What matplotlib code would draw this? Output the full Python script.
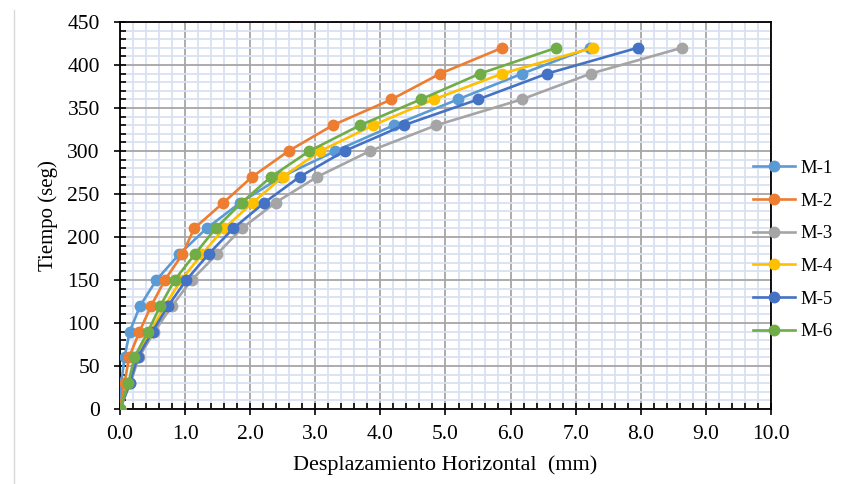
import numpy as np
import matplotlib
matplotlib.use("Agg")
from matplotlib import pyplot as plt
from matplotlib.ticker import MultipleLocator, FormatStrFormatter
from matplotlib.lines import Line2D

# tiempo (seg)
tiempo = [0, 30, 60, 90, 120, 150, 180, 210, 240, 270, 300, 330, 360, 390, 420]

# desplazamiento horizontal (mm) por muestra
m1 = [0, 0.02, 0.07, 0.15, 0.31, 0.56, 0.91, 1.33, 1.85, 2.48, 3.31, 4.21, 5.19, 6.18, 7.22]
m2 = [0, 0.07, 0.14, 0.30, 0.48, 0.69, 0.96, 1.14, 1.59, 2.03, 2.59, 3.27, 4.17, 4.92, 5.87]
m3 = [0, 0.16, 0.29, 0.53, 0.80, 1.10, 1.49, 1.87, 2.39, 3.03, 3.84, 4.86, 6.17, 7.23, 8.63]
m4 = [0, 0.14, 0.24, 0.47, 0.69, 0.94, 1.26, 1.60, 2.04, 2.50, 3.08, 3.89, 4.82, 5.87, 7.26]
m5 = [0, 0.15, 0.27, 0.50, 0.74, 1.02, 1.36, 1.74, 2.22, 2.76, 3.45, 4.36, 5.50, 6.56, 7.95]
m6 = [0, 0.13, 0.22, 0.43, 0.62, 0.84, 1.15, 1.47, 1.87, 2.32, 2.91, 3.69, 4.62, 5.53, 6.70]

labels = ["M-1", "M-2", "M-3", "M-4", "M-5", "M-6"]
colors = ["#5B9BD5", "#ED7D31", "#A5A5A5", "#FFC000", "#4472C4", "#70AD47"]
series = [m1, m2, m3, m4, m5, m6]

plt.rcParams['font.family'] = ['Liberation Serif', 'DejaVu Serif']

fig = plt.figure(figsize=(8.43, 4.84), dpi=100)
ax = fig.add_axes([0.1423, 0.155, 0.7723, 0.7995])

for vals, lab, col in zip(series, labels, colors):
    ax.plot(vals, tiempo, color=col, lw=1.9, marker="o", ms=7.5, label=lab, zorder=3)

ax.set_xlim(0, 10)
ax.set_ylim(0, 450)
ax.xaxis.set_major_locator(MultipleLocator(1))
ax.xaxis.set_minor_locator(MultipleLocator(0.2))
ax.yaxis.set_major_locator(MultipleLocator(50))
ax.yaxis.set_minor_locator(MultipleLocator(10))
ax.xaxis.set_major_formatter(FormatStrFormatter("%.1f"))

ax.grid(which="minor", color="#D9E1F2", lw=1.3, zorder=0)
ax.grid(which="major", color="#A6A6A6", lw=1.3, zorder=1)
ax.set_axisbelow(True)

for s in ax.spines.values():
    s.set_color("black")
    s.set_linewidth(1.3)

ax.tick_params(which="major", direction="inout", length=9, width=1.2, labelsize=15.5)
ax.tick_params(axis="x", which="major", pad=7)
ax.tick_params(axis="y", which="major", pad=10)
ax.tick_params(which="minor", direction="in", length=4.5, width=1.2)

ax.set_xlabel("Desplazamiento Horizontal  (mm)", fontsize=16, labelpad=8)
ax.set_ylabel("Tiempo (seg)", fontsize=15, labelpad=7)

fig.legend(loc="center left", bbox_to_anchor=(0.8845, 0.4835), frameon=False,
           borderaxespad=0, fontsize=13.5, handlelength=2.25, labelspacing=0.83,
           handletextpad=0.3)

fig.add_artist(Line2D([14 / 843, 14 / 843], [0, 474 / 484], color="#D9D9D9", lw=1))

fig.savefig("out.png", dpi=100)
